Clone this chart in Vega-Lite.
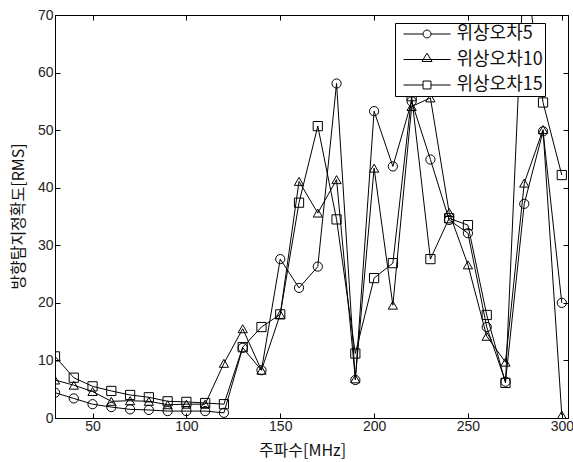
{
  "$schema": "https://vega.github.io/schema/vega-lite/v6.json",
  "width": 513,
  "height": 403,
  "autosize": "none",
  "padding": {"left": 55, "top": 15, "right": 5, "bottom": 44},
  "background": "white",
  "config": {
    "view": {"stroke": "black", "strokeWidth": 1},
    "axis": {
      "grid": false,
      "domainColor": "black",
      "tickColor": "black",
      "labelFont": "Liberation Sans",
      "labelFontSize": 14,
      "labelColor": "#222",
      "titleFont": "Noto Sans CJK KR",
      "titleFontSize": 16,
      "titleFontWeight": "normal",
      "titleColor": "#111"
    }
  },
  "data": {
    "values": [
      {"freq": 30, "series": "위상오차5", "value": 4.4},
      {"freq": 40, "series": "위상오차5", "value": 3.4},
      {"freq": 50, "series": "위상오차5", "value": 2.4},
      {"freq": 60, "series": "위상오차5", "value": 1.9},
      {"freq": 70, "series": "위상오차5", "value": 1.5},
      {"freq": 80, "series": "위상오차5", "value": 1.4},
      {"freq": 90, "series": "위상오차5", "value": 1.2},
      {"freq": 100, "series": "위상오차5", "value": 1.2},
      {"freq": 110, "series": "위상오차5", "value": 1.2},
      {"freq": 120, "series": "위상오차5", "value": 0.9},
      {"freq": 130, "series": "위상오차5", "value": 12.2},
      {"freq": 140, "series": "위상오차5", "value": 8.3},
      {"freq": 150, "series": "위상오차5", "value": 27.6},
      {"freq": 160, "series": "위상오차5", "value": 22.6},
      {"freq": 170, "series": "위상오차5", "value": 26.3},
      {"freq": 180, "series": "위상오차5", "value": 58.1},
      {"freq": 190, "series": "위상오차5", "value": 6.6},
      {"freq": 200, "series": "위상오차5", "value": 53.3},
      {"freq": 210, "series": "위상오차5", "value": 43.7},
      {"freq": 220, "series": "위상오차5", "value": 55.0},
      {"freq": 230, "series": "위상오차5", "value": 44.9},
      {"freq": 240, "series": "위상오차5", "value": 34.4},
      {"freq": 250, "series": "위상오차5", "value": 32.1},
      {"freq": 260, "series": "위상오차5", "value": 15.8},
      {"freq": 270, "series": "위상오차5", "value": 6.3},
      {"freq": 280, "series": "위상오차5", "value": 37.2},
      {"freq": 290, "series": "위상오차5", "value": 49.8},
      {"freq": 300, "series": "위상오차5", "value": 20.0},
      {"freq": 30, "series": "위상오차10", "value": 6.6},
      {"freq": 40, "series": "위상오차10", "value": 5.7},
      {"freq": 50, "series": "위상오차10", "value": 4.6},
      {"freq": 60, "series": "위상오차10", "value": 2.9},
      {"freq": 70, "series": "위상오차10", "value": 3.0},
      {"freq": 80, "series": "위상오차10", "value": 2.9},
      {"freq": 90, "series": "위상오차10", "value": 2.3},
      {"freq": 100, "series": "위상오차10", "value": 2.4},
      {"freq": 110, "series": "위상오차10", "value": 2.4},
      {"freq": 120, "series": "위상오차10", "value": 9.5},
      {"freq": 130, "series": "위상오차10", "value": 15.5},
      {"freq": 140, "series": "위상오차10", "value": 8.3},
      {"freq": 150, "series": "위상오차10", "value": 18.0},
      {"freq": 160, "series": "위상오차10", "value": 41.1},
      {"freq": 170, "series": "위상오차10", "value": 35.6},
      {"freq": 180, "series": "위상오차10", "value": 41.4},
      {"freq": 190, "series": "위상오차10", "value": 6.8},
      {"freq": 200, "series": "위상오차10", "value": 43.4},
      {"freq": 210, "series": "위상오차10", "value": 19.6},
      {"freq": 220, "series": "위상오차10", "value": 54.1},
      {"freq": 230, "series": "위상오차10", "value": 55.6},
      {"freq": 240, "series": "위상오차10", "value": 35.7},
      {"freq": 250, "series": "위상오차10", "value": 26.6},
      {"freq": 260, "series": "위상오차10", "value": 14.2},
      {"freq": 270, "series": "위상오차10", "value": 9.7},
      {"freq": 280, "series": "위상오차10", "value": 40.8},
      {"freq": 290, "series": "위상오차10", "value": 50.1},
      {"freq": 300, "series": "위상오차10", "value": 0.5},
      {"freq": 30, "series": "위상오차15", "value": 10.7},
      {"freq": 40, "series": "위상오차15", "value": 7.0},
      {"freq": 50, "series": "위상오차15", "value": 5.5},
      {"freq": 60, "series": "위상오차15", "value": 4.7},
      {"freq": 70, "series": "위상오차15", "value": 4.0},
      {"freq": 80, "series": "위상오차15", "value": 3.6},
      {"freq": 90, "series": "위상오차15", "value": 2.9},
      {"freq": 100, "series": "위상오차15", "value": 2.8},
      {"freq": 110, "series": "위상오차15", "value": 2.6},
      {"freq": 120, "series": "위상오차15", "value": 2.4},
      {"freq": 130, "series": "위상오차15", "value": 12.3},
      {"freq": 140, "series": "위상오차15", "value": 15.8},
      {"freq": 150, "series": "위상오차15", "value": 18.0},
      {"freq": 160, "series": "위상오차15", "value": 37.4},
      {"freq": 170, "series": "위상오차15", "value": 50.7},
      {"freq": 180, "series": "위상오차15", "value": 34.5},
      {"freq": 190, "series": "위상오차15", "value": 11.2},
      {"freq": 200, "series": "위상오차15", "value": 24.3},
      {"freq": 210, "series": "위상오차15", "value": 26.9},
      {"freq": 220, "series": "위상오차15", "value": 55.9},
      {"freq": 230, "series": "위상오차15", "value": 27.6},
      {"freq": 240, "series": "위상오차15", "value": 34.7},
      {"freq": 250, "series": "위상오차15", "value": 33.5},
      {"freq": 260, "series": "위상오차15", "value": 17.9},
      {"freq": 270, "series": "위상오차15", "value": 6.1},
      {"freq": 280, "series": "위상오차15", "value": 80.0},
      {"freq": 290, "series": "위상오차15", "value": 54.8},
      {"freq": 300, "series": "위상오차15", "value": 42.2}
    ]
  },
  "layer": [
    {
      "mark": {"type": "line", "color": "black", "strokeWidth": 1, "clip": true},
      "encoding": {
        "x": {
          "field": "freq", "type": "quantitative",
          "scale": {"domain": [30, 303.3], "nice": false, "zero": false},
          "axis": {
            "orient": "bottom",
            "values": [50, 100, 150, 200, 250, 300],
            "tickSize": -5,
            "labelPadding": 6,
            "title": "주파수[MHz]",
            "titleX": 247,
            "titleY": 32,
            "titleBaseline": "middle",
            "titleAlign": "center"
          }
        },
        "y": {
          "field": "value", "type": "quantitative",
          "scale": {"domain": [0, 70], "nice": false},
          "axis": {
            "orient": "left",
            "values": [0, 10, 20, 30, 40, 50, 60, 70],
            "tickSize": -5,
            "labelPadding": 7,
            "title": "방향탐지정확도[RMS]",
            "titleX": -37,
            "titleY": 201,
            "titleBaseline": "middle",
            "titleAlign": "center",
            "titleAngle": -90
          }
        },
        "detail": {"field": "series", "type": "nominal"}
      }
    },
    {
      "mark": {"type": "point", "filled": false, "stroke": "black", "strokeWidth": 1, "opacity": 1, "size": 85, "clip": true},
      "encoding": {
        "x": {
          "field": "freq", "type": "quantitative",
          "axis": {"orient": "top", "values": [50, 100, 150, 200, 250, 300], "labels": false, "tickSize": -5, "title": null}
        },
        "y": {
          "field": "value", "type": "quantitative",
          "axis": {"orient": "right", "values": [0, 10, 20, 30, 40, 50, 60, 70], "labels": false, "tickSize": -5, "title": null}
        },
        "shape": {
          "field": "series", "type": "nominal",
          "scale": {"domain": ["위상오차5", "위상오차10", "위상오차15"], "range": ["circle", "triangle-up", "square"]},
          "legend": null
        }
      }
    },
    {
      "mark": {"type": "point", "filled": false, "stroke": "black", "strokeWidth": 1, "opacity": 0, "size": 10},
      "encoding": {
        "x": {"field": "freq", "type": "quantitative", "axis": null},
        "y": {"field": "value", "type": "quantitative", "axis": null},
        "shape": {
          "field": "series", "type": "nominal",
          "scale": {
            "domain": ["위상오차5", "위상오차10", "위상오차15"],
            "range": [
              "M-2.61,0H-0.44M0.44,0H2.61M0.44,0A0.44,0.44,0,1,1,-0.44,0A0.44,0.44,0,1,1,0.44,0",
              "M-2.61,0H2.61M-0.56,0.22L0,-0.7L0.56,0.22Z",
              "M-2.61,0H-0.44M0.44,0H2.61M-0.44,-0.44H0.44V0.44H-0.44Z"
            ]
          },
          "legend": {
            "title": null,
            "orient": "none",
            "legendX": 340,
            "legendY": 8,
            "fillColor": "white",
            "strokeColor": "black",
            "padding": 1.5,
            "symbolOffset": 21,
            "symbolSize": 324,
            "symbolStrokeColor": "black",
            "symbolFillColor": "transparent",
            "symbolStrokeWidth": 1,
            "symbolOpacity": 1,
            "labelFont": "Noto Sans CJK KR",
            "labelFontSize": 18,
            "labelColor": "#111",
            "labelOffset": 20,
            "labelBaseline": "middle",
            "rowPadding": 6.5,
            "encode": {"symbols": {"update": {"opacity": {"value": 1}}}}
          }
        }
      }
    }
  ],
  "resolve": {"axis": {"x": "independent", "y": "independent"}, "scale": {"shape": "independent"}}
}
